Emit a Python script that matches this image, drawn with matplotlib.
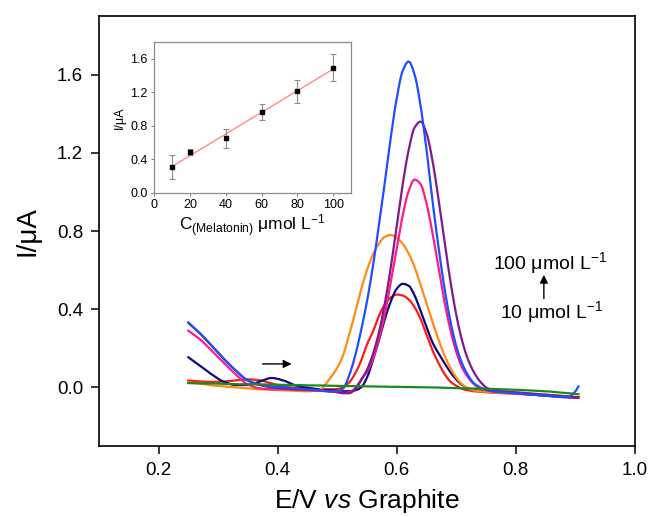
import numpy as np
import matplotlib
matplotlib.use("Agg")
import matplotlib.pyplot as plt

plt.rcParams['font.family'] = ['Liberation Sans', 'DejaVu Sans']
plt.rcParams['mathtext.fontset'] = 'custom'
plt.rcParams['mathtext.rm'] = 'Liberation Sans'
plt.rcParams['mathtext.it'] = 'Liberation Sans:italic'
plt.rcParams['mathtext.bf'] = 'Liberation Sans:bold'

# ---- data: potential grid (V) ----
potential = [0.25, 0.27, 0.29, 0.31, 0.33, 0.35, 0.37, 0.39, 0.41, 0.43, 0.45, 0.47, 0.49,
             0.50, 0.51, 0.52, 0.53, 0.54, 0.55, 0.56, 0.57, 0.58, 0.59, 0.60, 0.61, 0.62,
             0.63, 0.64, 0.65, 0.66, 0.67, 0.68, 0.69, 0.70, 0.71, 0.72, 0.73, 0.74, 0.75, 0.76,
             0.78, 0.80, 0.82, 0.84, 0.86, 0.88, 0.89, 0.90, 0.905]

current_blue = [0.332, 0.275, 0.21, 0.145, 0.085, 0.035, 0.015, 0.005, 0.0, -0.005, -0.01, -0.015, -0.022,
                -0.02, -0.005, 0.06, 0.16, 0.29, 0.44, 0.62, 0.83, 1.05, 1.28, 1.48, 1.62, 1.667,
                1.60, 1.44, 1.215, 0.955, 0.72, 0.51, 0.34, 0.21, 0.12, 0.06, 0.02, 0.0, -0.012, -0.02,
                -0.025, -0.03, -0.035, -0.04, -0.045, -0.05, -0.045, -0.02, 0.005]
current_purple = [0.33, 0.275, 0.21, 0.145, 0.085, 0.035, 0.012, 0.0, -0.005, -0.01, -0.012, -0.015, -0.02,
                  -0.025, -0.03, -0.03, -0.01, 0.035, 0.09, 0.17, 0.28, 0.43, 0.615, 0.83, 1.04, 1.215,
                  1.33, 1.36, 1.30, 1.16, 0.965, 0.75, 0.545, 0.37, 0.235, 0.14, 0.075, 0.03, 0.0, -0.015,
                  -0.02, -0.025, -0.03, -0.035, -0.04, -0.045, -0.048, -0.05, -0.05]
current_pink = [0.29, 0.245, 0.185, 0.125, 0.065, 0.015, -0.005, -0.01, -0.01, -0.012, -0.015, -0.018, -0.02,
                -0.02, -0.028, -0.025, -0.005, 0.04, 0.08, 0.145, 0.245, 0.375, 0.54, 0.715, 0.88, 1.005,
                1.063, 1.04, 0.94, 0.79, 0.615, 0.44, 0.295, 0.18, 0.10, 0.05, 0.015, -0.005, -0.015, -0.02,
                -0.025, -0.03, -0.035, -0.04, -0.045, -0.048, -0.05, -0.05, -0.05]
current_orange = [0.025, 0.02, 0.01, 0.005, 0.0, -0.005, -0.01, -0.012, -0.015, -0.018, -0.02, -0.012, 0.055,
                  0.10, 0.165, 0.27, 0.38, 0.50, 0.60, 0.68, 0.735, 0.77, 0.78, 0.765, 0.735, 0.685,
                  0.615, 0.525, 0.43, 0.335, 0.245, 0.165, 0.10, 0.05, 0.015, -0.005, -0.015, -0.02, -0.022, -0.025,
                  -0.028, -0.03, -0.033, -0.036, -0.04, -0.044, -0.046, -0.048, -0.05]
current_navy = [0.154, 0.11, 0.065, 0.028, 0.012, 0.012, 0.03, 0.048, 0.035, 0.01, -0.002, -0.01, -0.015,
                -0.018, -0.02, -0.02, -0.015, 0.0, 0.05, 0.14, 0.24, 0.35, 0.44, 0.505, 0.53, 0.52,
                0.47, 0.39, 0.31, 0.23, 0.175, 0.125, 0.078, 0.04, 0.012, -0.005, -0.012, -0.018, -0.02, -0.022,
                -0.025, -0.03, -0.035, -0.04, -0.045, -0.05, -0.052, -0.053, -0.053]
current_red = [0.035, 0.03, 0.028, 0.03, 0.036, 0.041, 0.036, 0.02, 0.005, -0.002, -0.006, -0.01, -0.01,
               -0.008, 0.0, 0.025, 0.07, 0.135, 0.22, 0.285, 0.365, 0.425, 0.46, 0.475, 0.47, 0.45,
               0.41, 0.35, 0.27, 0.19, 0.125, 0.07, 0.03, 0.008, -0.008, -0.015, -0.02, -0.022, -0.025, -0.027,
               -0.03, -0.033, -0.036, -0.04, -0.043, -0.046, -0.048, -0.05, -0.05]
current_green = [0.022, 0.02, 0.02, 0.018, 0.016, 0.016, 0.015, 0.014, 0.012, 0.012, 0.01, 0.01, 0.008,
                 0.008, 0.007, 0.007, 0.006, 0.006, 0.005, 0.005, 0.004, 0.004, 0.003, 0.003, 0.002, 0.002,
                 0.001, 0.001, 0.0, 0.0, -0.001, -0.002, -0.003, -0.004, -0.005, -0.005, -0.006, -0.006, -0.007, -0.008,
                 -0.01, -0.012, -0.015, -0.018, -0.022, -0.028, -0.03, -0.033, -0.035]

# inset calibration data
conc = [10, 20, 40, 60, 80, 100]
peak_current = [0.31, 0.49, 0.65, 0.965, 1.21, 1.495]
peak_err = [0.14, 0.035, 0.11, 0.09, 0.14, 0.16]


def smooth_path(x, y, per_seg=8):
    """Monotone cubic (PCHIP) rendering path through the read points."""
    x = np.asarray(x, float)
    y = np.asarray(y, float)
    n = len(x)
    h = np.diff(x)
    delta = np.diff(y) / h
    d = np.zeros(n)
    d[0], d[-1] = delta[0], delta[-1]
    for k in range(1, n - 1):
        if delta[k - 1] * delta[k] <= 0:
            d[k] = 0.0
        else:
            w1 = 2 * h[k] + h[k - 1]
            w2 = h[k] + 2 * h[k - 1]
            d[k] = (w1 + w2) / (w1 / delta[k - 1] + w2 / delta[k])
    xs, ys = [], []
    for k in range(n - 1):
        t = np.linspace(0, 1, per_seg, endpoint=False)
        h00 = 2 * t**3 - 3 * t**2 + 1
        h10 = t**3 - 2 * t**2 + t
        h01 = -2 * t**3 + 3 * t**2
        h11 = t**3 - t**2
        xs.append(x[k] + t * h[k])
        ys.append(h00 * y[k] + h10 * h[k] * d[k] + h01 * y[k + 1] + h11 * h[k] * d[k + 1])
    xs.append([x[-1]])
    ys.append([y[-1]])
    return np.concatenate(xs), np.concatenate(ys)


# ---- figure ----
fig = plt.figure(figsize=(6.53, 5.17), dpi=100)
ax = fig.add_axes([0.1516, 0.1373, 0.8208, 0.8317])

series = [
    (current_red, '#ff1a1a'),
    (current_navy, '#0a0a80'),
    (current_orange, '#ff8a14'),
    (current_pink, '#ff1a8c'),
    (current_purple, '#7f1a8a'),
    (current_blue, '#1f4dff'),
    (current_green, '#1a8a1a'),
]
for ys, c in series:
    sx, sy = smooth_path(potential, ys)
    ax.plot(sx, sy, color=c, lw=1.6, solid_joinstyle='round')

ax.set_xlim(0.1, 1.0)
ax.set_ylim(-0.3, 1.9)
ax.set_xticks([0.2, 0.4, 0.6, 0.8, 1.0])
ax.set_xticklabels(['0.2', '0.4', '0.6', '0.8', '1.0'])
ax.set_yticks([0.0, 0.4, 0.8, 1.2, 1.6])
ax.set_yticklabels(['0.0', '0.4', '0.8', '1.2', '1.6'])
ax.tick_params(axis='both', direction='out', length=5.5, width=1.1, labelsize=13.5,
               top=False, right=False, pad=6)
for s in ax.spines.values():
    s.set_linewidth(1.2)
ax.set_xlabel(r'E/V $\mathit{vs}$ Graphite', fontsize=19, labelpad=6)
ax.set_ylabel('I/μA', fontsize=20, labelpad=12)

# arrows & annotations
ax.annotate('', xy=(0.428, 0.12), xytext=(0.37, 0.12),
            arrowprops=dict(arrowstyle='-|>', color='black', lw=1.0, mutation_scale=12))
ax.annotate('', xy=(0.847, 0.59), xytext=(0.847, 0.44),
            arrowprops=dict(arrowstyle='-|>', color='black', lw=1.0, mutation_scale=12))
ax.text(0.858, 0.635, r'100 μmol L$^{\mathregular{-1}}$', fontsize=14, ha='center', va='center')
ax.text(0.860, 0.385, r'10 μmol L$^{\mathregular{-1}}$', fontsize=14, ha='center', va='center')

# ---- inset ----
ins = fig.add_axes([0.236, 0.6267, 0.3017, 0.2921])
coef = np.polyfit(conc, peak_current, 1)
xf = np.array([conc[0], conc[-1]])
ins.plot(xf, np.polyval(coef, xf), color='#ff8080', lw=0.9, zorder=1)
ins.errorbar(conc, peak_current, yerr=peak_err, fmt='s', color='black', ms=3.2,
             ecolor='#8c8c8c', elinewidth=0.8, capsize=2, capthick=0.8, zorder=2)
ins.set_xlim(0, 110)
ins.set_ylim(0, 1.8)
ins.set_xticks([0, 20, 40, 60, 80, 100])
ins.set_yticks([0.0, 0.4, 0.8, 1.2, 1.6])
ins.set_yticklabels(['0.0', '0.4', '0.8', '1.2', '1.6'])
ins.tick_params(axis='both', direction='out', length=2.5, width=0.7, labelsize=9,
                top=False, right=False, pad=2, color='#808080')
for s in ins.spines.values():
    s.set_linewidth(0.9)
    s.set_color('#8c8c8c')
ins.set_xlabel(r'C$_{\mathregular{(Melatonin)}}$ μmol L$^{\mathregular{-1}}$', fontsize=12.5, labelpad=1)
ins.set_ylabel('I/μA', fontsize=9, labelpad=3)

fig.savefig('out.png', dpi=100)
